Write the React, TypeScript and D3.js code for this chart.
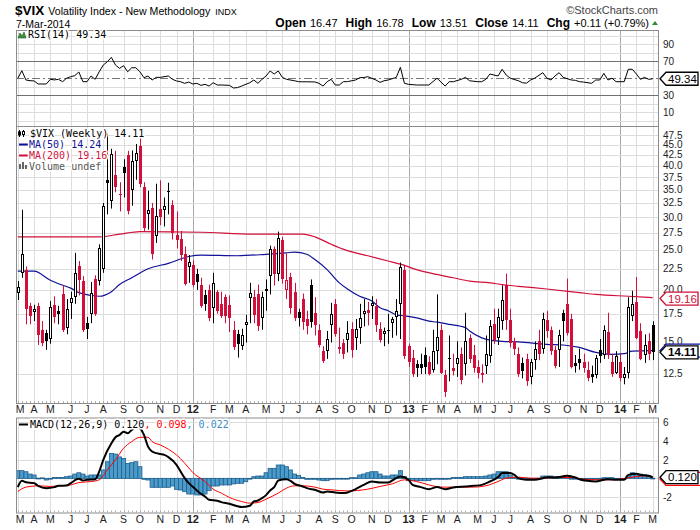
import React from 'react';
import * as d3 from 'd3';

// ---------- DATA (weekly $VIX, week ending Fri 11-Mar-2011 .. 7-Mar-2014) ----------
const firstWeek = new Date(2011, 2, 11);
const lastWeek = new Date(2014, 2, 7);

const opens = [
  19.6, 22.0, 22.3, 18.3, 17.7, 18.3, 16.0, 15.7, 15.2, 18.4,
  17.8, 19.5, 16.2, 18.6, 19.2, 22.8, 21.0, 16.6, 17.5, 21.3,
  21.0, 22.5, 37.0, 32.8, 38.0, 34.2, 39.7, 42.5, 35.0, 41.2,
  44.8, 35.5, 30.6, 31.6, 27.1, 31.5, 31.3, 34.7, 32.1, 27.2,
  26.6, 24.5, 22.7, 23.0, 21.8, 20.5, 19.4, 20.0, 18.1, 19.8,
  18.5, 19.2, 18.4, 16.0, 15.6, 14.6, 16.4, 19.1, 19.2, 19.5,
  17.1, 20.1, 21.6, 25.2, 21.9, 26.5, 20.0, 21.5, 19.8, 17.7,
  19.0, 17.0, 20.6, 17.6, 16.0, 14.2, 14.2, 16.4, 18.5, 14.4,
  14.9, 15.1, 16.1, 15.3, 16.2, 17.5, 17.9, 18.3, 18.3, 16.1,
  15.6, 16.0, 16.6, 17.2, 18.5, 22.3, 14.6, 13.7, 13.2, 13.2,
  13.9, 13.4, 12.8, 14.2, 16.0, 12.4, 13.7, 12.9, 13.2, 14.0,
  13.2, 15.3, 13.9, 13.0, 12.6, 13.1, 13.8, 16.5, 15.3, 16.8,
  20.5, 16.9, 15.0, 14.0, 13.3, 13.6, 12.3, 13.5, 15.0, 14.4,
  16.9, 16.0, 14.3, 14.3, 17.6, 18.5, 17.0, 13.3, 13.6, 13.4,
  12.8, 12.5, 12.4, 14.3, 13.9, 15.8, 13.4, 12.6, 13.4, 12.2,
  12.6, 17.3, 18.7, 15.9, 13.9, 15.0, 16.47,
];
const highs = [
  21.0, 31.3, 22.8, 18.6, 18.4, 18.6, 16.8, 16.0, 18.8, 19.3,
  18.3, 20.5, 19.0, 19.8, 24.6, 23.5, 21.6, 17.2, 20.9, 21.7,
  25.8, 32.5, 48.0, 44.0, 43.5, 36.5, 41.5, 43.5, 43.6, 45.2,
  46.9, 36.5, 34.8, 32.5, 36.2, 36.9, 33.5, 36.4, 33.0, 31.0,
  27.8, 25.5, 24.3, 23.6, 22.5, 21.4, 20.0, 20.6, 22.0, 20.0,
  19.8, 19.5, 19.4, 16.8, 16.0, 16.1, 17.4, 20.8, 20.0, 20.6,
  19.8, 21.2, 25.6, 25.5, 27.7, 26.9, 24.5, 22.0, 20.8, 18.0,
  19.6, 17.8, 21.2, 19.2, 16.5, 14.6, 15.9, 18.6, 19.0, 16.2,
  15.2, 16.8, 16.7, 17.0, 18.5, 19.0, 18.7, 19.3, 19.0, 16.7,
  16.2, 17.5, 17.2, 19.0, 23.3, 23.0, 14.8, 14.3, 13.5, 14.0,
  14.5, 13.8, 16.0, 19.5, 16.5, 12.8, 15.5, 14.0, 15.0, 14.5,
  17.6, 15.6, 14.7, 13.5, 13.2, 15.5, 16.9, 18.0, 18.0, 20.5,
  21.9, 18.0, 15.3, 14.5, 13.7, 14.0, 13.6, 15.0, 16.0, 17.6,
  17.8, 16.3, 14.6, 16.0, 17.9, 21.3, 17.5, 13.9, 14.4, 14.0,
  13.4, 13.1, 13.9, 15.2, 16.4, 17.6, 14.0, 14.2, 14.0, 13.0,
  19.2, 19.9, 21.5, 16.6, 15.6, 15.7, 16.78,
];
const lows = [
  18.9, 21.4, 16.5, 16.5, 16.8, 14.7, 14.6, 14.3, 14.8, 16.6,
  16.5, 15.8, 15.6, 17.0, 18.5, 19.4, 15.8, 15.2, 16.6, 17.3,
  20.5, 22.0, 30.5, 31.5, 34.5, 31.0, 33.5, 30.5, 32.0, 37.0,
  35.5, 27.8, 28.0, 23.7, 26.0, 28.7, 28.5, 30.5, 26.5, 25.2,
  23.5, 20.5, 20.8, 20.3, 20.0, 18.1, 17.8, 16.8, 16.6, 17.5,
  17.1, 16.6, 15.8, 14.3, 13.7, 14.3, 14.9, 16.6, 16.6, 15.9,
  16.0, 17.8, 19.5, 20.5, 21.0, 20.7, 19.0, 17.5, 16.8, 16.3,
  16.0, 15.6, 16.2, 15.5, 14.5, 13.3, 13.6, 14.9, 15.4, 14.0,
  13.6, 14.1, 13.7, 14.3, 14.8, 16.3, 16.4, 17.0, 15.8, 14.9,
  14.6, 14.8, 15.3, 15.5, 15.2, 13.6, 13.0, 12.3, 12.3, 12.5,
  12.5, 12.4, 12.6, 13.2, 12.5, 11.0, 12.0, 12.4, 12.3, 11.8,
  12.4, 13.3, 12.6, 12.2, 11.9, 12.5, 13.3, 14.8, 14.7, 16.0,
  16.0, 14.5, 13.9, 12.3, 12.2, 11.7, 11.8, 12.8, 13.5, 14.0,
  15.3, 13.9, 12.9, 13.0, 15.0, 15.5, 12.9, 12.6, 12.8, 12.6,
  12.0, 11.9, 12.2, 13.3, 13.6, 13.6, 12.3, 12.5, 12.0, 11.8,
  12.2, 16.8, 15.2, 13.5, 13.3, 13.5, 13.51,
];
const closes = [
  20.3, 24.4, 18.0, 17.3, 18.0, 15.5, 14.9, 15.0, 18.2, 17.2,
  17.5, 16.0, 18.0, 19.1, 22.0, 21.1, 16.0, 16.1, 19.7, 17.5,
  25.3, 32.0, 36.4, 42.7, 35.6, 33.9, 38.5, 31.0, 41.2, 43.0,
  36.2, 28.2, 31.3, 24.5, 30.2, 30.0, 32.0, 34.5, 27.5, 26.4,
  24.3, 20.7, 23.4, 20.6, 20.9, 18.3, 18.5, 17.1, 20.8, 17.8,
  17.3, 17.25, 17.1, 14.5, 14.8, 15.5, 16.7, 19.6, 17.4, 16.3,
  19.2, 19.9, 25.1, 21.8, 26.7, 21.2, 21.1, 18.1, 17.08, 17.1,
  16.7, 16.3, 16.7, 16.4, 14.7, 13.45, 15.2, 17.5, 15.6, 14.5,
  14.0, 15.7, 14.3, 16.1, 17.1, 17.8, 17.6, 18.6, 16.4, 15.1,
  15.9, 15.92, 17.0, 17.8, 22.7, 13.8, 13.4, 12.5, 12.9, 12.92,
  13.0, 12.5, 14.2, 15.4, 12.6, 11.3, 13.6, 12.7, 13.7, 12.1,
  15.0, 13.6, 12.9, 12.6, 12.45, 14.0, 16.3, 15.1, 17.2, 18.9,
  16.9, 14.9, 14.4, 12.5, 12.7, 12.0, 13.4, 14.4, 14.0, 17.0,
  15.9, 14.2, 13.1, 15.5, 16.8, 15.7, 13.0, 13.1, 13.3, 12.9,
  12.2, 12.3, 13.7, 13.8, 16.0, 13.9, 12.5, 13.8, 12.2, 12.5,
  18.2, 18.5, 15.3, 13.6, 14.7, 14.0, 14.11,
];

// moving averages: [week index, value]
const ma50Points: [number, number][] = [
  [0, 22.2], [4, 22.2], [8, 21.1], [10, 20.7], [13, 20.2], [15, 19.7], [18, 19.4], [20, 19.3],
  [23, 19.8], [25, 20.6], [28, 21.4], [32, 22.5], [37, 23.2], [42, 24.1], [45, 24.3], [54, 24.2],
  [61, 24.4], [66, 24.6], [68, 24.7], [71, 24.4], [73, 23.7], [76, 22.4], [79, 20.8], [81, 20.1],
  [84, 19.3], [87, 18.8], [89, 18.1], [91, 17.8], [93, 17.4], [95, 17.3], [98, 17.1], [101, 16.8],
  [103, 16.7], [106, 16.5], [110, 16.2], [111, 15.9], [114, 15.3], [116, 15.1], [119, 15.0],
  [123, 14.95], [130, 14.75], [134, 14.7], [138, 14.5], [142, 14.1], [146, 13.95], [149, 14.0],
  [151, 14.2], [156, 14.24],
];
const ma200Points: [number, number][] = [
  [0, 26.9], [20, 26.9], [25, 27.3], [30, 27.7], [45, 27.6], [58, 27.3], [70, 27.3], [73, 26.9],
  [77, 25.8], [79, 25.3], [81, 24.9], [86, 24.2], [91, 23.5], [94, 23.1], [98, 22.4], [103, 21.8],
  [107, 21.4], [111, 21.0], [116, 20.8], [119, 20.6], [123, 20.4], [130, 20.1], [138, 19.7],
  [142, 19.5], [150, 19.3], [156, 19.16],
];

const rsiPoints: [number, number][] = [
  [0, 50], [1, 58.8], [2, 47.9], [3, 47.1], [4, 46.8], [5, 43.2], [6, 43.2], [7, 43.2], [8, 48.7], [9, 48],
  [10, 48.7], [11, 45.9], [12, 50], [13, 51.8], [14, 53], [15, 57.3], [16, 45.9], [17, 45.9], [18, 52.6],
  [19, 48.7], [20, 57.6], [21, 65.5], [22, 69.4], [23, 74.5], [24, 65.5], [25, 61.6], [26, 64.7], [27, 57.6],
  [28, 62.3], [29, 62.3], [30, 57.6], [31, 50.6], [32, 52.6], [33, 47.9], [34, 51], [35, 51], [37, 52.6],
  [38, 48.7], [39, 46.8], [40, 45.9], [41, 44], [42, 45.5], [43, 43.2], [44, 44], [45, 41.6], [46, 42.8],
  [47, 40.8], [48, 44.7], [49, 42], [50, 42], [52, 41.6], [53, 38.5], [54, 39], [55, 40.8], [57, 44.7],
  [58, 47.9], [59, 44], [60, 48.7], [61, 52.6], [62, 58.5], [63, 54.9], [64, 58.5], [65, 51], [66, 48.7],
  [68, 47], [69, 45.9], [70, 45.8], [71, 45.8], [73, 45.6], [74, 44], [75, 40.8], [76, 45.9], [77, 48.7],
  [78, 42], [79, 42], [80, 45.9], [81, 46], [83, 47.9], [84, 50.6], [85, 50.8], [86, 51.8], [88, 47.9],
  [89, 45.1], [90, 47], [91, 47.9], [93, 51], [94, 62.8], [95, 44], [96, 42.8], [98, 42], [100, 42],
  [101, 42], [103, 50], [105, 40.8], [106, 45.9], [107, 45.9], [109, 48.7], [110, 51], [111, 47],
  [113, 45.9], [114, 45.9], [115, 48.7], [116, 54.9], [118, 52.6], [119, 60.5], [120, 53.8], [121, 50],
  [123, 47], [124, 44.7], [125, 44.2], [126, 47.9], [127, 50], [129, 56.5], [130, 50], [131, 47.9],
  [132, 52.6], [133, 56.5], [134, 51], [136, 47.9], [137, 47.5], [138, 45.9], [139, 45.5], [141, 44],
  [142, 47.9], [143, 47.9], [144, 55.7], [145, 47.9], [146, 50], [147, 45.9], [149, 45.9], [150, 60.5],
  [151, 60.5], [152, 54.9], [153, 48.7], [154, 51], [155, 48.7], [156, 49.34],
];

const macdPoints: [number, number][] = [
  [0, -0.94], [1, -0.27], [2, -0.41], [4, -0.51], [5, -0.8], [7, -1.05], [9, -0.94], [10, -0.8],
  [12, -0.77], [13, -0.51], [15, -0.05], [16, -0.23], [17, -0.16], [19, -0.09], [20, 0.73], [21, 1.98],
  [23, 3.76], [24, 4.4], [25, 4.65], [26, 5.0], [27, 4.83], [28, 5.19], [29, 5.45], [30, 5.37],
  [31, 4.65], [32, 3.4], [33, 2.87], [34, 2.7], [35, 2.6], [36, 2.51], [37, 2.27], [39, 1.44],
  [40, 0.73], [41, 0.02], [42, -0.51], [43, -0.9], [44, -1.3], [45, -1.65], [46, -1.95], [47, -2.3],
  [49, -2.41], [50, -2.55], [52, -2.73], [54, -3.0], [55, -3.08], [57, -2.94], [58, -2.48], [59, -2.37],
  [60, -2.12], [61, -1.8], [62, -1.3], [63, -0.94], [64, -0.23], [66, -0.09], [67, -0.27], [68, -0.59],
  [70, -0.87], [71, -1.05], [73, -1.23], [75, -1.51], [76, -1.41], [78, -1.51], [80, -1.58], [81, -1.51],
  [83, -1.16], [85, -0.7], [87, -0.34], [89, -0.45], [91, -0.45], [92, -0.23], [94, 0.19], [96, -0.16],
  [97, -0.7], [99, -0.94], [101, -1.16], [103, -0.94], [105, -1.16], [107, -0.98], [110, -0.87],
  [112, -0.8], [114, -0.7], [116, -0.34], [118, 0.13], [119, 0.56], [121, 0.56], [122, 0.37], [123, 0.02],
  [125, -0.16], [127, -0.16], [129, 0.02], [130, 0.13], [132, 0.09], [135, 0.27], [137, 0.09], [138, -0.09],
  [140, -0.27], [142, -0.34], [144, -0.16], [145, -0.09], [147, -0.16], [149, -0.16], [150, 0.37],
  [152, 0.48], [153, 0.37], [155, 0.27], [156, 0.12],
];
const signalPoints: [number, number][] = [
  [0, -1.41], [2, -0.94], [5, -0.8], [8, -0.87], [10, -0.8], [13, -0.7], [15, -0.45], [18, -0.34],
  [20, -0.16], [22, 0.91], [24, 1.98], [26, 3.23], [28, 3.94], [30, 4.4], [32, 4.4], [33, 3.94],
  [35, 3.58], [37, 3.12], [39, 2.51], [41, 1.63], [43, 0.62], [46, -0.34], [48, -1.16], [50, -1.58],
  [52, -2.05], [55, -2.48], [57, -2.66], [59, -2.59], [61, -2.23], [64, -1.58], [66, -1.05], [68, -0.8],
  [70, -0.8], [73, -0.94], [75, -1.16], [77, -1.23], [81, -1.35], [86, -1.16], [89, -0.87], [92, -0.59],
  [95, -0.16], [98, -0.34], [101, -0.7], [104, -0.94], [108, -0.94], [112, -0.94], [115, -0.8],
  [118, -0.34], [120, 0.02], [123, 0.13], [126, 0.02], [129, 0.02], [132, 0.09], [136, 0.09],
  [139, -0.09], [142, -0.16], [145, -0.16], [148, -0.09], [151, 0.13], [154, 0.27], [156, 0.098],
];
const histValues = [
  0.82, 0.82, 0.71, 0.46, 0.36, 0.02, 0.05, -0.18, -0.05, 0.1,
  0.1, 0.1, 0.18, 0.25, 0.46, 0.6, 0.46, 0.25, 0.36, 0.36,
  0.36, 0.9, 1.78, 2.67, 2.6, 2.3, 2.14, 1.6, 1.68, 1.78,
  1.25, -0.1, -0.18, -0.96, -0.96, -0.96, -0.96, -0.96, -0.82, -1.18,
  -1.25, -1.43, -1.68, -1.68, -1.78, -1.78, -1.68, -1.32, -0.82, -0.82,
  -0.71, -0.71, -0.71, -0.6, -0.53, -0.53, -0.36, 0, 0.18, 0.25,
  0.25, 0.6, 1.07, 1.07, 1.43, 1.43, 1.25, 0.9, 0.46, 0.3,
  0.1, -0.1, -0.1, -0.1, -0.18, -0.25, -0.25, -0.1, -0.04, -0.04,
  -0.04, -0.04, 0.07, 0.07, 0.36, 0.46, 0.6, 0.71, 0.71, 0.46,
  0.25, 0.25, 0.36, 0.36, 0.82, 0.18, -0.25, -0.25, -0.25, -0.25,
  -0.25, -0.25, -0.1, 0, -0.1, -0.1, -0.04, 0.1, 0.1, 0.1,
  0.18, 0.18, 0.18, 0.18, 0.18, 0.25, 0.36, 0.46, 0.71, 0.71,
  0.71, 0.36, 0.1, 0, -0.1, -0.1, -0.04, -0.04, -0.04, 0.25,
  0.25, 0.25, 0.18, 0.18, 0.18, 0.1, 0, 0, 0, -0.1,
  -0.1, -0.1, -0.1, -0.1, 0.07, 0.07, 0.07, 0, -0.04, -0.04,
  0.25, 0.6, 0.53, 0.46, 0.36, 0.25, 0.022,
];

const priceTicks = [12.5, 15, 17.5, 20, 22.5, 25, 27.5, 30, 32.5, 35, 37.5, 40, 42.5, 45, 47.5];
const rsiTicks = [10, 30, 70, 90];
const rsiGrid = [0, 10, 20, 40, 60, 80, 90, 100];
const macdTicks = [-2, 2, 4, 6];
const macdGrid = [-2, 0, 2, 4, 6];
const monthLetters = ['J', 'F', 'M', 'A', 'M', 'J', 'J', 'A', 'S', 'O', 'N', 'D'];
const quoteLabels = ['Open', 'High', 'Low', 'Close', 'Chg'];
const quoteValues = ['16.47', '16.78', '13.51', '14.11', '+0.11 (+0.79%)'];

// ---------- STYLE ----------
const RED = '#D0103A';
const NAVY = '#10109A';
const HIST = '#4B9BCB';
const HIST_EDGE = '#1F5F8E';
const GRID = '#dcdcdc';
const YEAR_GRID = '#a8a8a8';
const BORDER = '#8c8c8c';
const SANS = 'Liberation Sans, Arial, sans-serif';
const MONO = 'DejaVu Sans Mono, monospace';

const L = 16, R = 659;
const RSI_T = 30, RSI_B = 126, MAIN_T = 126, MAIN_B = 403, MACD_T = 417.5, MACD_B = 512.5;

function Tag({ y, label, color, bold, width = 38, fill = '#fff' }: any) {
  const x0 = 660, h = 6.5;
  const d = `M${x0},${y} L${x0 + 6},${y - h} L${x0 + width},${y - h} L${x0 + width},${y + h} L${x0 + 6},${y + h} Z`;
  return (
    <g>
      <path d={d} fill={fill} stroke={color} strokeWidth={1.3} />
      {label && (
        <text x={x0 + 8} y={y + 4} fontFamily={SANS} fontSize={11.5} fontWeight={bold ? 'bold' : 'normal'} fill={color}>
          {label}
        </text>
      )}
    </g>
  );
}

export default function App() {
  const weeks = d3.timeFriday.range(firstWeek, d3.timeDay.offset(lastWeek, 1));
  const n = closes.length;
  const x = d3.scaleLinear().domain([0, n - 1]).range([17.8, 652.7]);
  const yP = d3.scaleLog().domain([10.63, 49.97]).range([MAIN_B, MAIN_T]);
  const yR = d3.scaleLinear().domain([-6.2, 106.7]).range([RSI_B, RSI_T]);
  const yM = d3.scaleLinear().domain([-3.66, 6.52]).range([MACD_B, MACD_T]);

  // month boundaries (week whose Monday falls into a new month)
  const months: { i: number; label: string; year: boolean }[] = [];
  weeks.forEach((d, i) => {
    const mon = d3.timeDay.offset(d, -4);
    const prev = i > 0 ? d3.timeDay.offset(weeks[i - 1], -4) : null;
    if (!prev || prev.getMonth() !== mon.getMonth()) {
      const m = mon.getMonth();
      months.push({ i, label: m === 0 ? String(mon.getFullYear()).slice(2) : monthLetters[m], year: m === 0 });
    }
  });

  const lineP = d3.line<[number, number]>().x((d) => x(d[0])).y((d) => yP(d[1])).curve(d3.curveMonotoneX);
  const lineR = d3.line<[number, number]>().x((d) => x(d[0])).y((d) => yR(d[1]));
  const lineM = d3.line<[number, number]>().x((d) => x(d[0])).y((d) => yM(d[1])).curve(d3.curveMonotoneX);

  const vGrid = (t: number, b: number) =>
    months.map((m) => {
      const gx = Math.round(x(m.i)) + 0.5;
      return <line key={`g${t}-${m.i}`} x1={gx} x2={gx} y1={t} y2={b} stroke={m.year ? YEAR_GRID : GRID} strokeWidth={1} />;
    });

  const monthLabels = (y: number) =>
    months.map((m) => (
      <text key={`ml${y}-${m.i}`} x={Math.max(20, x(m.i))} y={y} textAnchor="middle" fontFamily={SANS}
        fontSize={m.year ? 11 : 10.5} fontWeight={m.year ? 'bold' : 'normal'} fill="#222">
        {m.label}
      </text>
    ));

  const weekTicks = (y: number) =>
    closes.map((_, i) => {
      const tx = Math.round(x(i)) + 0.5;
      return <line key={`wt${y}-${i}`} x1={tx} x2={tx} y1={y - 2} y2={y} stroke="#b0b0b0" />;
    });

  const halo = { stroke: '#fff', strokeWidth: 3, paintOrder: 'stroke' as any, strokeLinejoin: 'round' as any };

  return (
    <svg width={700} height={530} style={{ position: 'absolute', left: 0, top: 0, background: '#fff' }}>
      <defs>
        <clipPath id="cMain"><rect x={L} y={MAIN_T} width={R - L} height={MAIN_B - MAIN_T} /></clipPath>
        <clipPath id="cRsi"><rect x={L} y={RSI_T} width={R - L} height={RSI_B - RSI_T} /></clipPath>
        <clipPath id="cMacd"><rect x={L} y={MACD_T} width={R - L} height={MACD_B - MACD_T} /></clipPath>
      </defs>
      <rect width={700} height={530} fill="#fff" />

      {/* ---------- header ---------- */}
      <text x={15} y={15} fontFamily={SANS} fill="#000">
        <tspan fontSize={13.5} fontWeight="bold">$VIX</tspan>
        <tspan dx={4} fontSize={10.6}>Volatility Index - New Methodology</tspan>
        <tspan dx={5} fontSize={9}>INDX</tspan>
      </text>
      <text x={16} y={27.5} fontFamily={SANS} fontSize={10.5} fill="#000">7-Mar-2014</text>
      <text x={658} y={14} textAnchor="end" fontFamily={SANS} fontSize={11} fill="#444">©StockCharts.com</text>
      <text x={649} y={27} textAnchor="end" fontFamily={SANS} fill="#000">
        {quoteLabels.map((lab, k) => (
          <React.Fragment key={lab}>
            <tspan dx={k === 0 ? 0 : 8} fontSize={12} fontWeight="bold">{lab}</tspan>
            <tspan dx={4} fontSize={11}>{quoteValues[k]}</tspan>
          </React.Fragment>
        ))}
      </text>
      <path d="M652,25 L658,25 L655,21 Z" fill="#2e8b2e" />

      {/* ---------- RSI panel ---------- */}
      <g>
        {vGrid(RSI_T, RSI_B)}
        {rsiGrid.map((v) => (
          <line key={`rg${v}`} x1={L} x2={R} y1={Math.round(yR(v)) + 0.5} y2={Math.round(yR(v)) + 0.5} stroke={GRID} />
        ))}
        {[30, 70].map((v) => (
          <line key={`rl${v}`} x1={L} x2={R} y1={Math.round(yR(v)) + 0.5} y2={Math.round(yR(v)) + 0.5} stroke="#707070" />
        ))}
        <line x1={L} x2={R} y1={Math.round(yR(50)) + 0.5} y2={Math.round(yR(50)) + 0.5} stroke="#777" strokeDasharray="8,3,2,3" />
        <g clipPath="url(#cRsi)">
          <path d={lineR(rsiPoints) || ''} fill="none" stroke="#000" strokeWidth={1} />
        </g>
        <rect x={L + 0.5} y={RSI_T + 0.5} width={R - L - 1} height={RSI_B - RSI_T} fill="none" stroke={BORDER} />
        {rsiTicks.map((v) => (
          <text key={`rt${v}`} x={663} y={yR(v) + 4} fontFamily={SANS} fontSize={10} fill="#222">{v}</text>
        ))}
        {/* legend */}
        <path d="M18,38 L20,33 L22,36 L24,32 L26,38 Z" fill="#3f8f3f" stroke="#1d5e1d" strokeWidth={0.6} />
        <text x={28} y={38} fontFamily={MONO} fontSize={10} fill="#000" {...halo}>RSI(14) 49.34</text>
        <Tag y={yR(49.34)} label="49.34" color="#000" />
      </g>

      {/* ---------- Price panel ---------- */}
      <g>
        {vGrid(MAIN_T, MAIN_B)}
        {priceTicks.map((v) => (
          <line key={`pg${v}`} x1={L} x2={R} y1={Math.round(yP(v)) + 0.5} y2={Math.round(yP(v)) + 0.5} stroke={GRID} />
        ))}
        <g clipPath="url(#cMain)">
          <path d={lineP(ma200Points) || ''} fill="none" stroke={RED} strokeWidth={1.2} />
          <path d={lineP(ma50Points) || ''} fill="none" stroke={NAVY} strokeWidth={1.2} />
          {closes.map((c, i) => {
            const o = opens[i];
            const prev = i === 0 ? o : closes[i - 1];
            const color = c >= prev ? '#000' : RED;
            const hollow = c > o;
            const cx = Math.round(x(i));
            const yT = Math.round(yP(Math.max(o, c)));
            const yB = Math.round(yP(Math.min(o, c)));
            const bh = Math.max(1, yB - yT);
            return (
              <g key={`c${i}`}>
                <line x1={cx + 0.5} x2={cx + 0.5} y1={yP(highs[i])} y2={yP(lows[i])} stroke={color} strokeWidth={1} />
                {hollow ? (
                  <rect x={cx - 0.5} y={yT + 0.5} width={2} height={Math.max(1, bh - 1)} fill="#fff" stroke={color} strokeWidth={1} />
                ) : (
                  <rect x={cx - 1} y={yT} width={3} height={bh} fill={color} />
                )}
              </g>
            );
          })}
        </g>
        <rect x={L + 0.5} y={MAIN_T + 0.5} width={R - L - 1} height={MAIN_B - MAIN_T} fill="none" stroke={BORDER} />
        {weekTicks(MAIN_B)}
        {priceTicks.map((v) => (
          <text key={`pt${v}`} x={663} y={yP(v) + 3.5} fontFamily={SANS} fontSize={10} fill="#222">{v.toFixed(1)}</text>
        ))}
        {/* legend */}
        <g>
          <line x1={19.5} x2={19.5} y1={130} y2={137} stroke="#000" />
          <rect x={18} y={131.5} width={3} height={4} fill="#000" />
          <line x1={23.5} x2={23.5} y1={130} y2={137} stroke="#000" />
          <rect x={22.5} y={131.5} width={2} height={3} fill="#fff" stroke="#000" />
          <text x={30} y={137} fontFamily={MONO} fontSize={10} fill="#000" {...halo}>$VIX (Weekly) 14.11</text>
          <line x1={19} x2={28} y1={144.5} y2={144.5} stroke={NAVY} strokeWidth={2} />
          <text x={29} y={148} fontFamily={MONO} fontSize={10} fill={NAVY} {...halo}>MA(50) 14.24</text>
          <line x1={19} x2={28} y1={155.5} y2={155.5} stroke={RED} strokeWidth={2} />
          <text x={29} y={159} fontFamily={MONO} fontSize={10} fill={RED} {...halo}>MA(200) 19.16</text>
          <rect x={19} y={164} width={2} height={5} fill="#666" />
          <rect x={22} y={162} width={2} height={7} fill="#666" />
          <rect x={25} y={165} width={2} height={4} fill="#666" />
          <text x={29} y={170} fontFamily={MONO} fontSize={10} fill="#555" {...halo}>Volume undef</text>
        </g>
        <Tag y={yP(19.16) + 1} label="19.16" color={RED} />
        <Tag y={yP(14.24)} label="" color={NAVY} width={45} />
        <Tag y={yP(14.11)} label="14.11" color="#000" bold />
      </g>
      {monthLabels(412.5)}

      {/* ---------- MACD panel ---------- */}
      <g>
        {vGrid(MACD_T, MACD_B)}
        {macdGrid.map((v) => (
          <line key={`mg${v}`} x1={L} x2={R} y1={Math.round(yM(v)) + 0.5} y2={Math.round(yM(v)) + 0.5} stroke={GRID} />
        ))}
        <g clipPath="url(#cMacd)">
          {histValues.map((h, i) => {
            const x0 = x(i) - 2.03;
            const y0 = yM(Math.max(0, h));
            const hh = Math.max(0.8, Math.abs(yM(h) - yM(0)));
            return <rect key={`h${i}`} x={x0} y={y0} width={4.07} height={hh} fill={HIST} stroke={HIST_EDGE} strokeWidth={0.8} />;
          })}
          <path d={lineM(signalPoints) || ''} fill="none" stroke="#ff0000" strokeWidth={1} />
          <path d={lineM(macdPoints) || ''} fill="none" stroke="#000" strokeWidth={2} />
        </g>
        <rect x={L + 0.5} y={MACD_T + 0.5} width={R - L - 1} height={MACD_B - MACD_T} fill="none" stroke={BORDER} />
        {weekTicks(MACD_B)}
        {macdTicks.map((v) => (
          <text key={`mt${v}`} x={663} y={yM(v) + 4} fontFamily={SANS} fontSize={10} fill="#222">{v}</text>
        ))}
        <line x1={19} x2={28} y1={424.5} y2={424.5} stroke="#000" strokeWidth={2} />
        <text x={30} y={428} fontFamily={MONO} fontSize={10} {...halo}>
          <tspan fill="#000">MACD(12,26,9) 0.120</tspan>
          <tspan fill="#ff0000">, 0.098</tspan>
          <tspan fill="#3a8cc4">, 0.022</tspan>
        </text>
        <Tag y={yM(0.098) + 1.5} label="" color="#ff0000" width={45} />
        <Tag y={yM(0.12)} label="0.120" color="#000" />
      </g>
      {monthLabels(522.5)}
    </svg>
  );
}
